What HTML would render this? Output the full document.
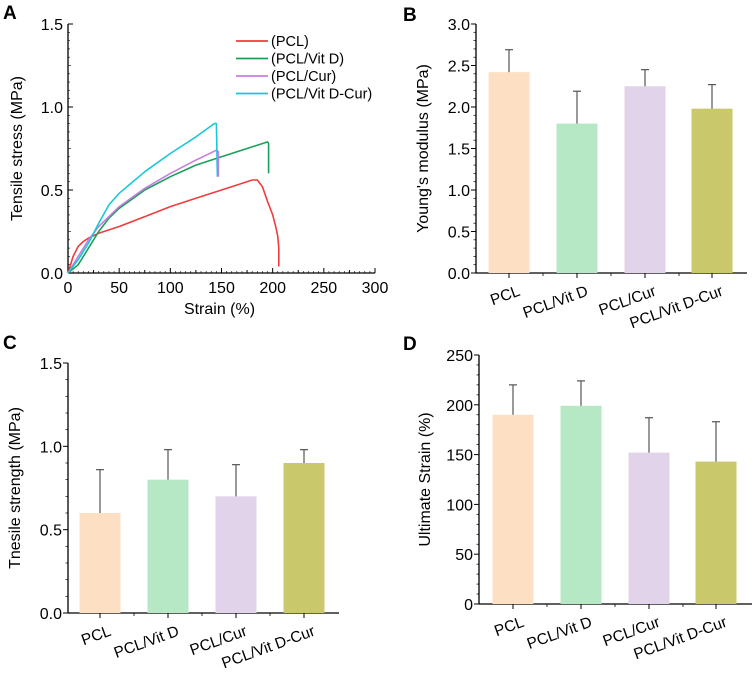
<!DOCTYPE html>
<html><head><meta charset="utf-8">
<style>
body{margin:0;background:#fff;}
svg{display:block;font-family:"Liberation Sans",Arial,sans-serif;}
</style></head>
<body>
<svg id="fig" width="754" height="676" viewBox="0 0 754 676"></svg>
<script>
const NS="http://www.w3.org/2000/svg";
const svg=document.getElementById('fig');
function mk(tag,attrs,parent,text){const e=document.createElementNS(NS,tag);for(const k in attrs)e.setAttribute(k,attrs[k]);if(text!==undefined)e.textContent=text;(parent||svg).appendChild(e);return e;}

// ---------- Panel A data ----------
const seriesNames=["(PCL)","(PCL/Vit D)","(PCL/Cur)","(PCL/Vit D-Cur)"];
const seriesColors=["#f03c3c","#1aa05a","#c77ee0","#18c8d8"];
const pclStrain=[0,5,10,15,20,30,50,75,100,125,150,170,180,185,190,195,200,203,205,206,206];
const pclStress=[0,0.1,0.16,0.19,0.21,0.24,0.28,0.34,0.4,0.45,0.5,0.54,0.56,0.56,0.52,0.43,0.35,0.28,0.22,0.15,0.04];
const vitdStrain=[0,10,20,30,40,50,75,100,125,150,175,195,196,196];
const vitdStress=[0,0.05,0.15,0.25,0.33,0.39,0.5,0.58,0.65,0.7,0.75,0.79,0.78,0.6];
const curStrain=[0,10,20,30,40,50,75,100,125,145,147,147];
const curStress=[0,0.1,0.2,0.28,0.34,0.4,0.51,0.6,0.68,0.74,0.73,0.58];
const vdcStrain=[0,10,20,30,40,50,75,100,125,143,145,146];
const vdcStress=[0,0.08,0.18,0.3,0.41,0.48,0.61,0.72,0.82,0.9,0.9,0.58];
const aXTicks=[0,50,100,150,200,250,300];
const aYTicks=[0,0.5,1.0,1.5];

// ---------- Bar data ----------
const groups=["PCL","PCL/Vit D","PCL/Cur","PCL/Vit D-Cur"];
const barColors=["#fde0c4","#b7e8c6","#e0d3ea","#c9c86a"];
const modulusMean=[2.42,1.80,2.25,1.98];
const modulusErr=[0.27,0.39,0.20,0.29];
const strengthMean=[0.60,0.80,0.70,0.90];
const strengthErr=[0.26,0.18,0.19,0.08];
const ultMean=[190,199,152,143];
const ultErr=[30,25,35,40];
const bTicks=[0,0.5,1.0,1.5,2.0,2.5,3.0];
const cTicks=[0,0.5,1.0,1.5];
const dTicks=[0,50,100,150,200,250];

function panelLabel(t,x,y){const e=mk('text',{x:x,y:y,'font-size':19,'font-weight':'bold',fill:'#000'},svg,t);}

// ---------- Panel A ----------
(function(){
 const L=68,R=375,T=24,B=273,xmax=300,ymax=1.5;
 const g=mk('g',{});
 const sx=v=>L+v/xmax*(R-L), sy=v=>B-v/ymax*(B-T);
 mk('line',{x1:L,y1:T,x2:L,y2:B,stroke:'#000','stroke-width':1.3},g);
 mk('line',{x1:L,y1:B,x2:R,y2:B,stroke:'#000','stroke-width':1.3},g);
 aXTicks.forEach((t,i)=>{const x=sx(t);mk('line',{x1:x,y1:B,x2:x,y2:B-5,stroke:'#000'},g);
  const tl=mk('text',{x:x,y:B+20,'font-size':16,'text-anchor':'middle'},g,t);
  if(i<aXTicks.length-1){const m=sx(t+25);mk('line',{x1:m,y1:B,x2:m,y2:B-3,stroke:'#000'},g);}
  for(let k=1;k<10;k++){if(k==5)continue;const m=sx(t+k*5);if(t+k*5<xmax)mk('line',{x1:m,y1:B,x2:m,y2:B-2,stroke:'#000','stroke-width':0.6},g);}
 });
 aYTicks.forEach((t,i)=>{const y=sy(t);mk('line',{x1:L,y1:y,x2:L+5,y2:y,stroke:'#000'},g);
  const tl=mk('text',{x:L-5,y:y+6,'font-size':16,'text-anchor':'end'},g,t.toFixed(1));
  if(i<aYTicks.length-1)for(let k=1;k<10;k++){const m=sy(t+k*0.05);mk('line',{x1:L,y1:m,x2:L+(k==5?3:2),y2:m,stroke:'#000','stroke-width':0.6},g);}
 });
 const xt=mk('text',{x:(L+R)/2-2,y:314,'font-size':16,'text-anchor':'middle'},g,'Strain (%)');
 const yt=mk('text',{x:0,y:0,'font-size':16,'text-anchor':'middle',transform:`translate(22,${(T+B)/2}) rotate(-90)`},g,'Tensile stress (MPa)');
 const data=[[pclStrain,pclStress],[vitdStrain,vitdStress],[curStrain,curStress],[vdcStrain,vdcStress]];
 data.forEach((d,i)=>{const pts=d[0].map((s,j)=>sx(s).toFixed(1)+','+sy(d[1][j]).toFixed(1)).join(' ');
  const p=mk('polyline',{points:pts,fill:'none',stroke:seriesColors[i],'stroke-width':1.6,'stroke-linejoin':'round'},g);
  
  const y=41+i*17.5;
  const lg=mk('g',{},g);
  mk('line',{x1:236,y1:y,x2:268,y2:y,stroke:seriesColors[i],'stroke-width':1.8},lg);
  mk('text',{x:271,y:y+5,'font-size':14.5},lg,seriesNames[i]);
 });
})();
panelLabel('A',3,19);

// ---------- Bar panels ----------
function barPanel(name,L,R,T,B,ymax,ticks,dec,means,errs,centers,title,minorStep,titleOff){
 const g=mk('g',{});
 const sy=v=>B-v/ymax*(B-T);
 mk('line',{x1:L,y1:T,x2:L,y2:B,stroke:'#000','stroke-width':1.3},g);
 mk('line',{x1:L,y1:B,x2:R,y2:B,stroke:'#000','stroke-width':1.3},g);
 ticks.forEach((t,i)=>{const y=sy(t);mk('line',{x1:L-5,y1:y,x2:L,y2:y,stroke:'#000'},g);
  const tl=mk('text',{x:L-6,y:y+6,'font-size':16,'text-anchor':'end'},g,t.toFixed(dec));
  if(i<ticks.length-1)for(let k=1;k<5;k++){const m=sy(t+k*minorStep);mk('line',{x1:L-2.5,y1:m,x2:L,y2:m,stroke:'#000','stroke-width':0.7},g);}
 });
 const w=41;
 means.forEach((m,i)=>{const cx=centers[i];
  const r=mk('rect',{x:cx-w/2,y:sy(m),width:w,height:B-sy(m),fill:barColors[i]},g);
  
  const e=mk('g',{stroke:'#555','stroke-width':1.2},g);
  mk('line',{x1:cx,y1:sy(m),x2:cx,y2:sy(m+errs[i])},e);
  mk('line',{x1:cx-4,y1:sy(m+errs[i]),x2:cx+4,y2:sy(m+errs[i])},e);
  mk('line',{x1:cx,y1:B,x2:cx,y2:B+5,stroke:'#000','stroke-width':1},g);
  if(i<means.length-1)mk('line',{x1:cx+34,y1:B,x2:cx+34,y2:B+3,stroke:'#000','stroke-width':0.8},g);
  const tl=mk('text',{x:0,y:0,'font-size':15.5,'text-anchor':'end',transform:`translate(${cx+12},${B+22}) rotate(-20)`},g,groups[i]);
  
 });
 const yt=mk('text',{x:0,y:0,'font-size':16,'text-anchor':'middle',transform:`translate(${L-titleOff},${(T+B)/2}) rotate(-90)`},g,title);
 
}
barPanel('panel-b-youngs-modulus',476,747,24,273,3.0,bTicks,1,modulusMean,modulusErr,[509,577,645,712],"Young's modulus (MPa)",0.1,48);
panelLabel('B',403,21);
barPanel('panel-c-tensile-strength',68,339,363,613,1.5,cTicks,1,strengthMean,strengthErr,[100,168,236,304],"Tnesile strength (MPa)",0.1,48);
panelLabel('C',3,349);
barPanel('panel-d-ultimate-strain',479,752,355,604,250,dTicks,0,ultMean,ultErr,[513,581,649,716],"Ultimate Strain (%)",10,49);
panelLabel('D',403,350);
</script>
</body></html>
